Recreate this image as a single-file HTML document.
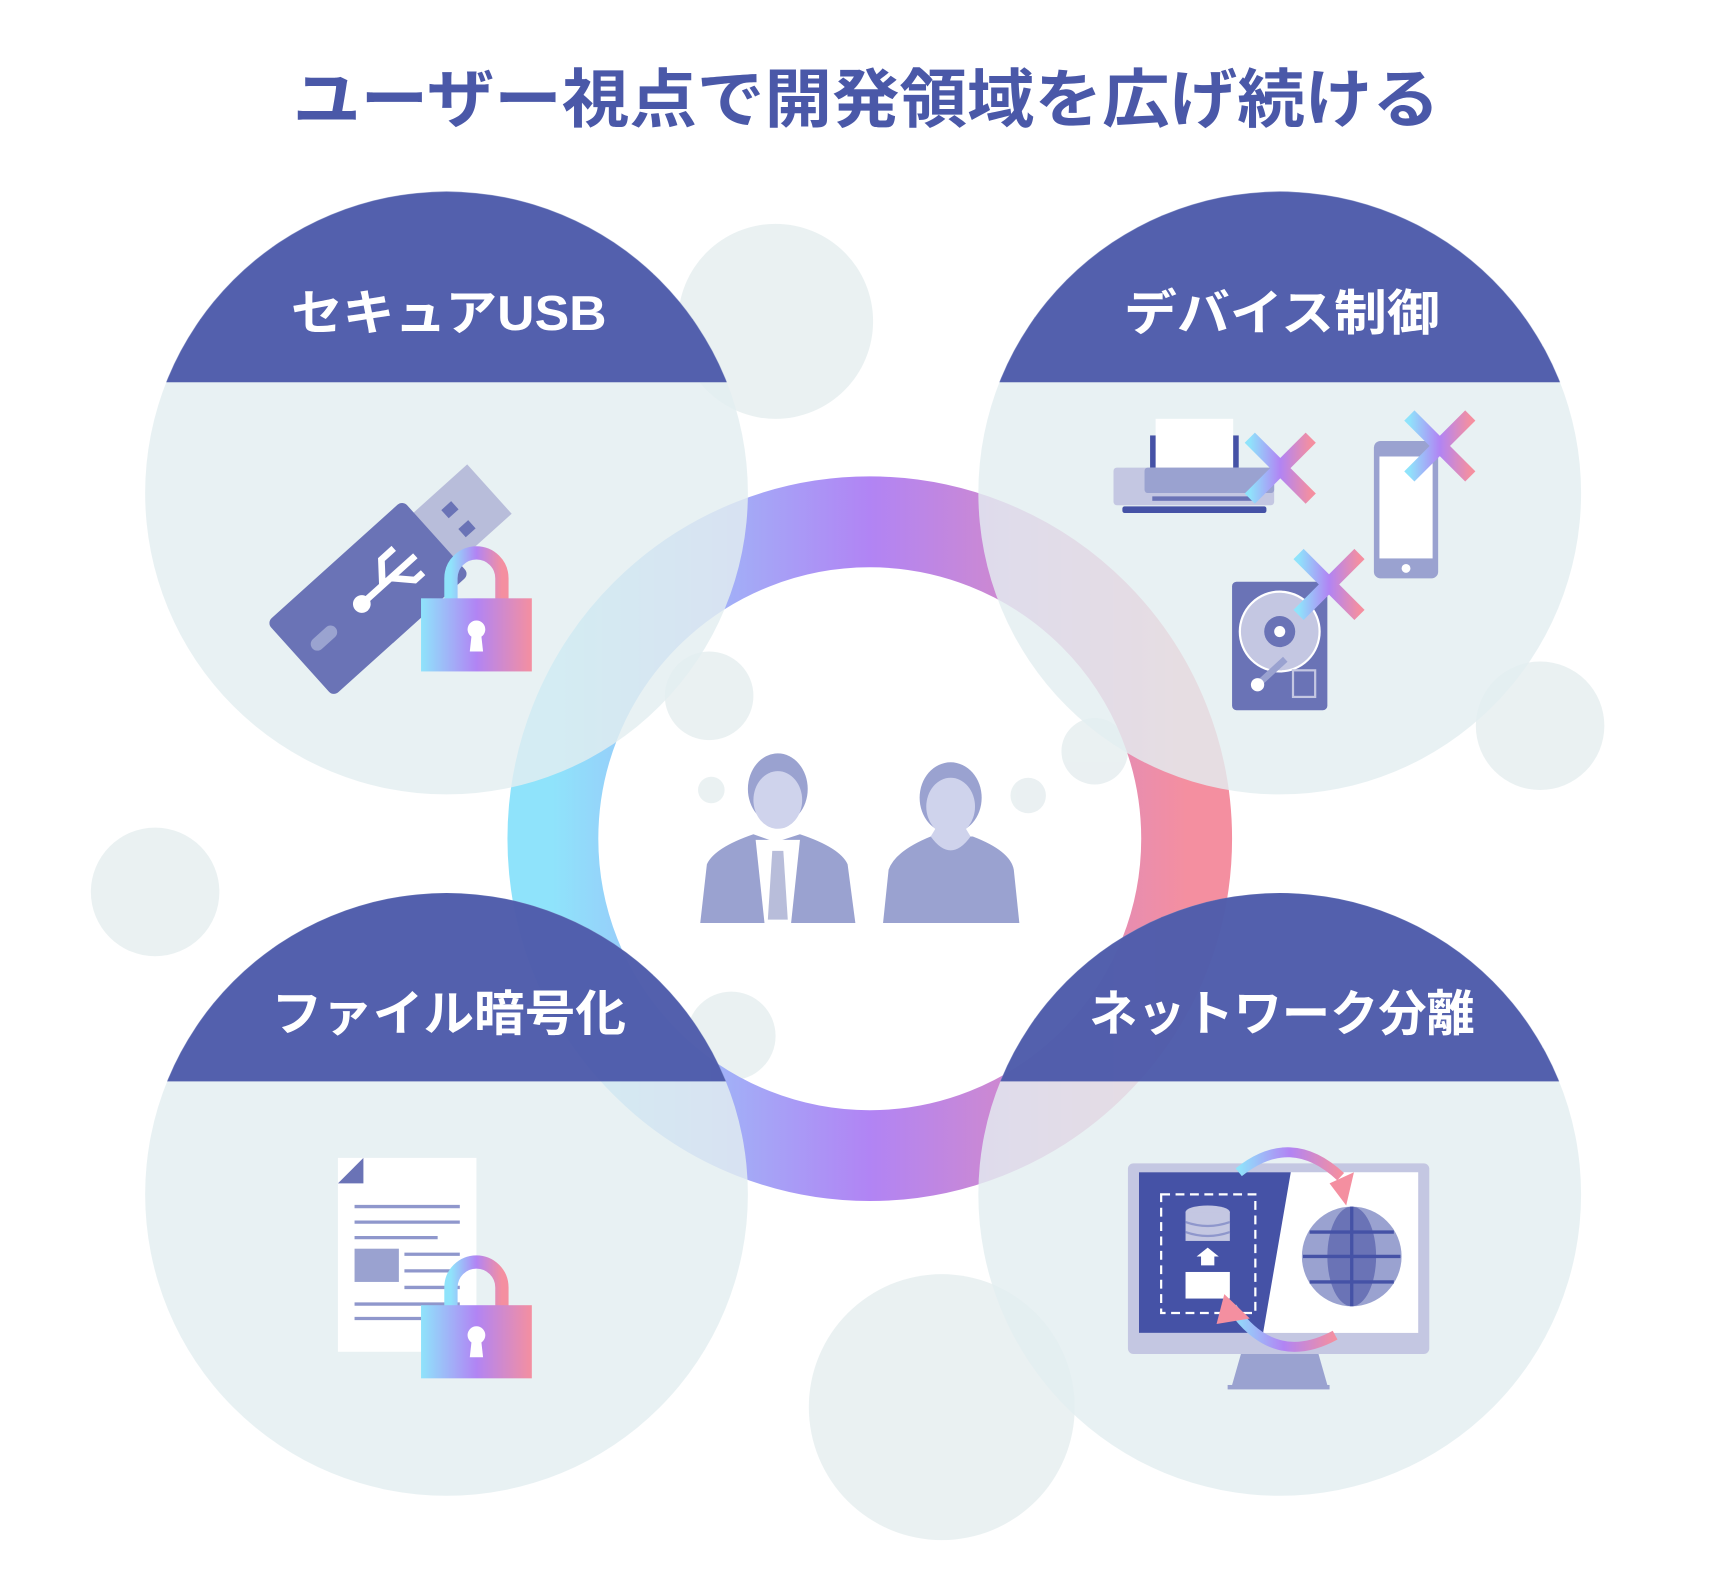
<!DOCTYPE html>
<html><head><meta charset="utf-8"><style>
html,body{margin:0;padding:0;background:#fff;width:1728px;height:1575px;overflow:hidden}
svg{display:block}
text{font-family:"Liberation Sans","Noto Sans CJK JP",sans-serif;font-weight:bold}
</style></head><body>
<svg width="1728" height="1575" viewBox="0 0 1559.6 1421.5" xmlns="http://www.w3.org/2000/svg">
<defs>
<linearGradient id="ring" x1="0" y1="0" x2="1" y2="0">
<stop offset="0" stop-color="#8fe3fb"/><stop offset="0.5" stop-color="#b184f4"/><stop offset="1" stop-color="#f48fa0"/></linearGradient>
<linearGradient id="lg" x1="0" y1="0" x2="1" y2="0">
<stop offset="0" stop-color="#8fe3fb"/><stop offset="0.5" stop-color="#b184f4"/><stop offset="1" stop-color="#f48fa0"/></linearGradient>
<clipPath id="hTop"><rect x="0" y="0" width="1560" height="345"/></clipPath>
<clipPath id="hBot"><rect x="0" y="0" width="1560" height="976"/></clipPath>
</defs>
<rect width="1560" height="1422" fill="#fff"/>
<g fill="#e3ecee" opacity="0.75">
<circle cx="700" cy="290" r="88"/><circle cx="140" cy="805" r="58"/><circle cx="1390" cy="655" r="58"/>
<circle cx="850" cy="1270" r="120"/><circle cx="640" cy="628" r="40"/><circle cx="660" cy="935" r="40"/>
<circle cx="988" cy="678" r="30"/><circle cx="642" cy="713" r="12"/><circle cx="928" cy="718" r="16"/>
</g>
<circle cx="785" cy="757" r="286" fill="none" stroke="url(#ring)" stroke-width="82"/>
<g opacity="0.82">
<circle cx="403" cy="445" r="272" fill="#e3eef0"/>
<circle cx="1155" cy="445" r="272" fill="#e3eef0"/>
<circle cx="403" cy="1078" r="272" fill="#e3eef0"/>
<circle cx="1155" cy="1078" r="272" fill="#e3eef0"/>
</g>
<g opacity="0.9" fill="#4250a5">
<circle cx="403" cy="445" r="272" clip-path="url(#hTop)"/>
<circle cx="1155" cy="445" r="272" clip-path="url(#hTop)"/>
<circle cx="403" cy="1078" r="272" clip-path="url(#hBot)"/>
<circle cx="1155" cy="1078" r="272" clip-path="url(#hBot)"/>
</g>
<text x="782" y="110" text-anchor="middle" font-size="58" fill="#4a58a8" textLength="1035" lengthAdjust="spacingAndGlyphs">ユーザー視点で開発領域を広げ続ける</text>
<g fill="#fff" font-size="44" text-anchor="middle">
<text x="405" y="298" textLength="285" lengthAdjust="spacingAndGlyphs">セキュアUSB</text>
<text x="1157" y="298" textLength="285" lengthAdjust="spacingAndGlyphs">デバイス制御</text>
<text x="405" y="930" textLength="320" lengthAdjust="spacingAndGlyphs">ファイル暗号化</text>
<text x="1157" y="930" textLength="348" lengthAdjust="spacingAndGlyphs">ネットワーク分離</text>
</g>
<g transform="translate(360,515) rotate(-42)">
<rect x="40" y="-30" width="70" height="60" fill="#b8bdda"/>
<rect x="65" y="-15" width="12" height="10" fill="#6a73b6"/><rect x="65" y="8" width="12" height="10" fill="#6a73b6"/>
<rect x="-120" y="-45" width="165" height="90" rx="6" fill="#6a73b6"/>
<rect x="-105" y="-6" width="28" height="12" rx="6" fill="#9aa3d0"/>
<path d="M-40 0 H20 M-20 0 L-5 -18 H10 M-10 0 L5 16 H15" stroke="#fff" stroke-width="6" fill="none"/>
<circle cx="-45" cy="0" r="8" fill="#fff"/>
</g>
<path d="M407 545 V522 a23 23 0 0 1 46 0 V545" fill="none" stroke="url(#lg)" stroke-width="12"/>
<rect x="380" y="540" width="100" height="66" fill="url(#lg)"/>
<circle cx="430" cy="568" r="8" fill="#fff"/><path d="M426 570 L424 588 H436 L434 570Z" fill="#fff"/>
<rect x="1043" y="378" width="70" height="45" fill="#fff"/>
<rect x="1038" y="393" width="5" height="30" fill="#4552a6"/><rect x="1113" y="393" width="5" height="30" fill="#4552a6"/>
<rect x="1005" y="422" width="145" height="34" rx="3" fill="#c4c7e2"/>
<rect x="1033" y="422" width="117" height="23" rx="3" fill="#9aa2d0"/>
<rect x="1040" y="448" width="95" height="4" fill="#6a73b6"/>
<rect x="1013" y="457" width="130" height="6" rx="2" fill="#4552a6"/>
<rect x="1240" y="398" width="58" height="124" rx="6" fill="#9aa2d0"/>
<rect x="1245" y="412" width="48" height="92" fill="#fff"/>
<circle cx="1269" cy="513" r="4" fill="#fff"/>
<rect x="1112" y="525" width="86" height="116" rx="4" fill="#6a73b6"/>
<circle cx="1155" cy="570" r="36" fill="#c4c7e2" stroke="#fff" stroke-width="2"/>
<circle cx="1155" cy="570" r="14" fill="#6a73b6"/><circle cx="1155" cy="570" r="5" fill="#fff"/>
<path d="M1135 618 L1160 595" stroke="#9aa2d0" stroke-width="6"/><circle cx="1135" cy="618" r="6" fill="#fff"/>
<rect x="1167" y="605" width="20" height="24" fill="none" stroke="#c4c7e2" stroke-width="2"/>
<g stroke="url(#lg)" stroke-width="13">
<path d="M1128 395 L1183 450 M1183 395 L1128 450"/>
<path d="M1272 375 L1327 430 M1327 375 L1272 430"/>
<path d="M1172 500 L1227 555 M1227 500 L1172 555"/>
</g>
<g fill="#9aa2d0">
<path d="M632 833 L638 780 Q645 765 680 753 L700 760 L722 753 Q758 765 765 780 L772 833Z"/>
<ellipse cx="702" cy="712" rx="27" ry="32"/>
<path d="M797 833 L802 785 Q808 768 840 755 L878 755 Q912 768 915 785 L920 833Z"/>
<ellipse cx="858" cy="720" rx="28" ry="32"/>
</g>
<g fill="#cfd3ec">
<ellipse cx="702" cy="722" rx="22" ry="26"/>
<path d="M682 758 L722 758 L714 833 H690Z" fill="#fff"/>
<path d="M697 768 H707 L711 830 H693Z" fill="#b8bdda"/>
<ellipse cx="858" cy="728" rx="22" ry="26"/>
<path d="M840 755 Q858 780 876 755 L870 745 H846Z"/>
</g>
<path d="M305 1045 H430 V1220 H305 V1068 Z" fill="#fff"/>
<path d="M305 1068 L328 1045 V1068Z" fill="#6a73b6"/>
<g stroke="#8f97cc" stroke-width="3">
<path d="M320 1089 H415 M320 1103 H415 M320 1117 H395 M365 1132 H415 M365 1147 H415 M365 1162 H415 M320 1177 H415 M320 1190 H395"/>
</g>
<rect x="320" y="1127" width="40" height="30" fill="#9aa2d0"/>
<path d="M407 1185 V1162 a23 23 0 0 1 46 0 V1185" fill="none" stroke="url(#lg)" stroke-width="12"/>
<rect x="380" y="1178" width="100" height="66" fill="url(#lg)"/>
<circle cx="430" cy="1205" r="8" fill="#fff"/><path d="M426 1207 L424 1225 H436 L434 1207Z" fill="#fff"/>
<rect x="1018" y="1050" width="272" height="172" rx="5" fill="#c4c7e2"/>
<rect x="1028" y="1058" width="252" height="145" fill="#fff"/>
<path d="M1028 1058 H1165 L1140 1203 H1028Z" fill="#4552a6"/>
<rect x="1048" y="1078" width="85" height="107" fill="none" stroke="#fff" stroke-width="2" stroke-dasharray="8 5"/>
<ellipse cx="1090" cy="1094" rx="20" ry="6" fill="#c4c7e2"/>
<rect x="1070" y="1094" width="40" height="26" fill="#c4c7e2"/>
<path d="M1070 1103 Q1090 1110 1110 1103 M1070 1112 Q1090 1119 1110 1112" stroke="#8f97cc" stroke-width="2" fill="none"/>
<path d="M1084 1142 V1134 H1080 L1090 1126 L1100 1134 H1096 V1142Z" fill="#fff"/>
<rect x="1070" y="1148" width="40" height="24" fill="#fff"/>
<circle cx="1220" cy="1134" r="45" fill="#9aa2d0"/>
<ellipse cx="1220" cy="1134" rx="22" ry="45" fill="#6a73b6"/>
<path d="M1220 1089 V1179 M1176 1134 H1264 M1182 1112 H1258 M1182 1157 H1258" stroke="#4552a6" stroke-width="3"/>
<path d="M1120 1222 H1190 L1198 1250 H1112Z" fill="#9aa2d0"/>
<rect x="1108" y="1250" width="92" height="4" fill="#9aa2d0"/>
<path d="M1118 1058 Q1165 1020 1210 1062" fill="none" stroke="url(#lg)" stroke-width="9"/>
<path d="M1200 1068 L1222 1058 L1215 1088Z" fill="#f48fa0"/>
<path d="M1205 1205 Q1150 1235 1112 1180" fill="none" stroke="url(#lg)" stroke-width="9"/>
<path d="M1098 1195 L1105 1168 L1128 1190Z" fill="#f48fa0"/>
</svg>
</body></html>
